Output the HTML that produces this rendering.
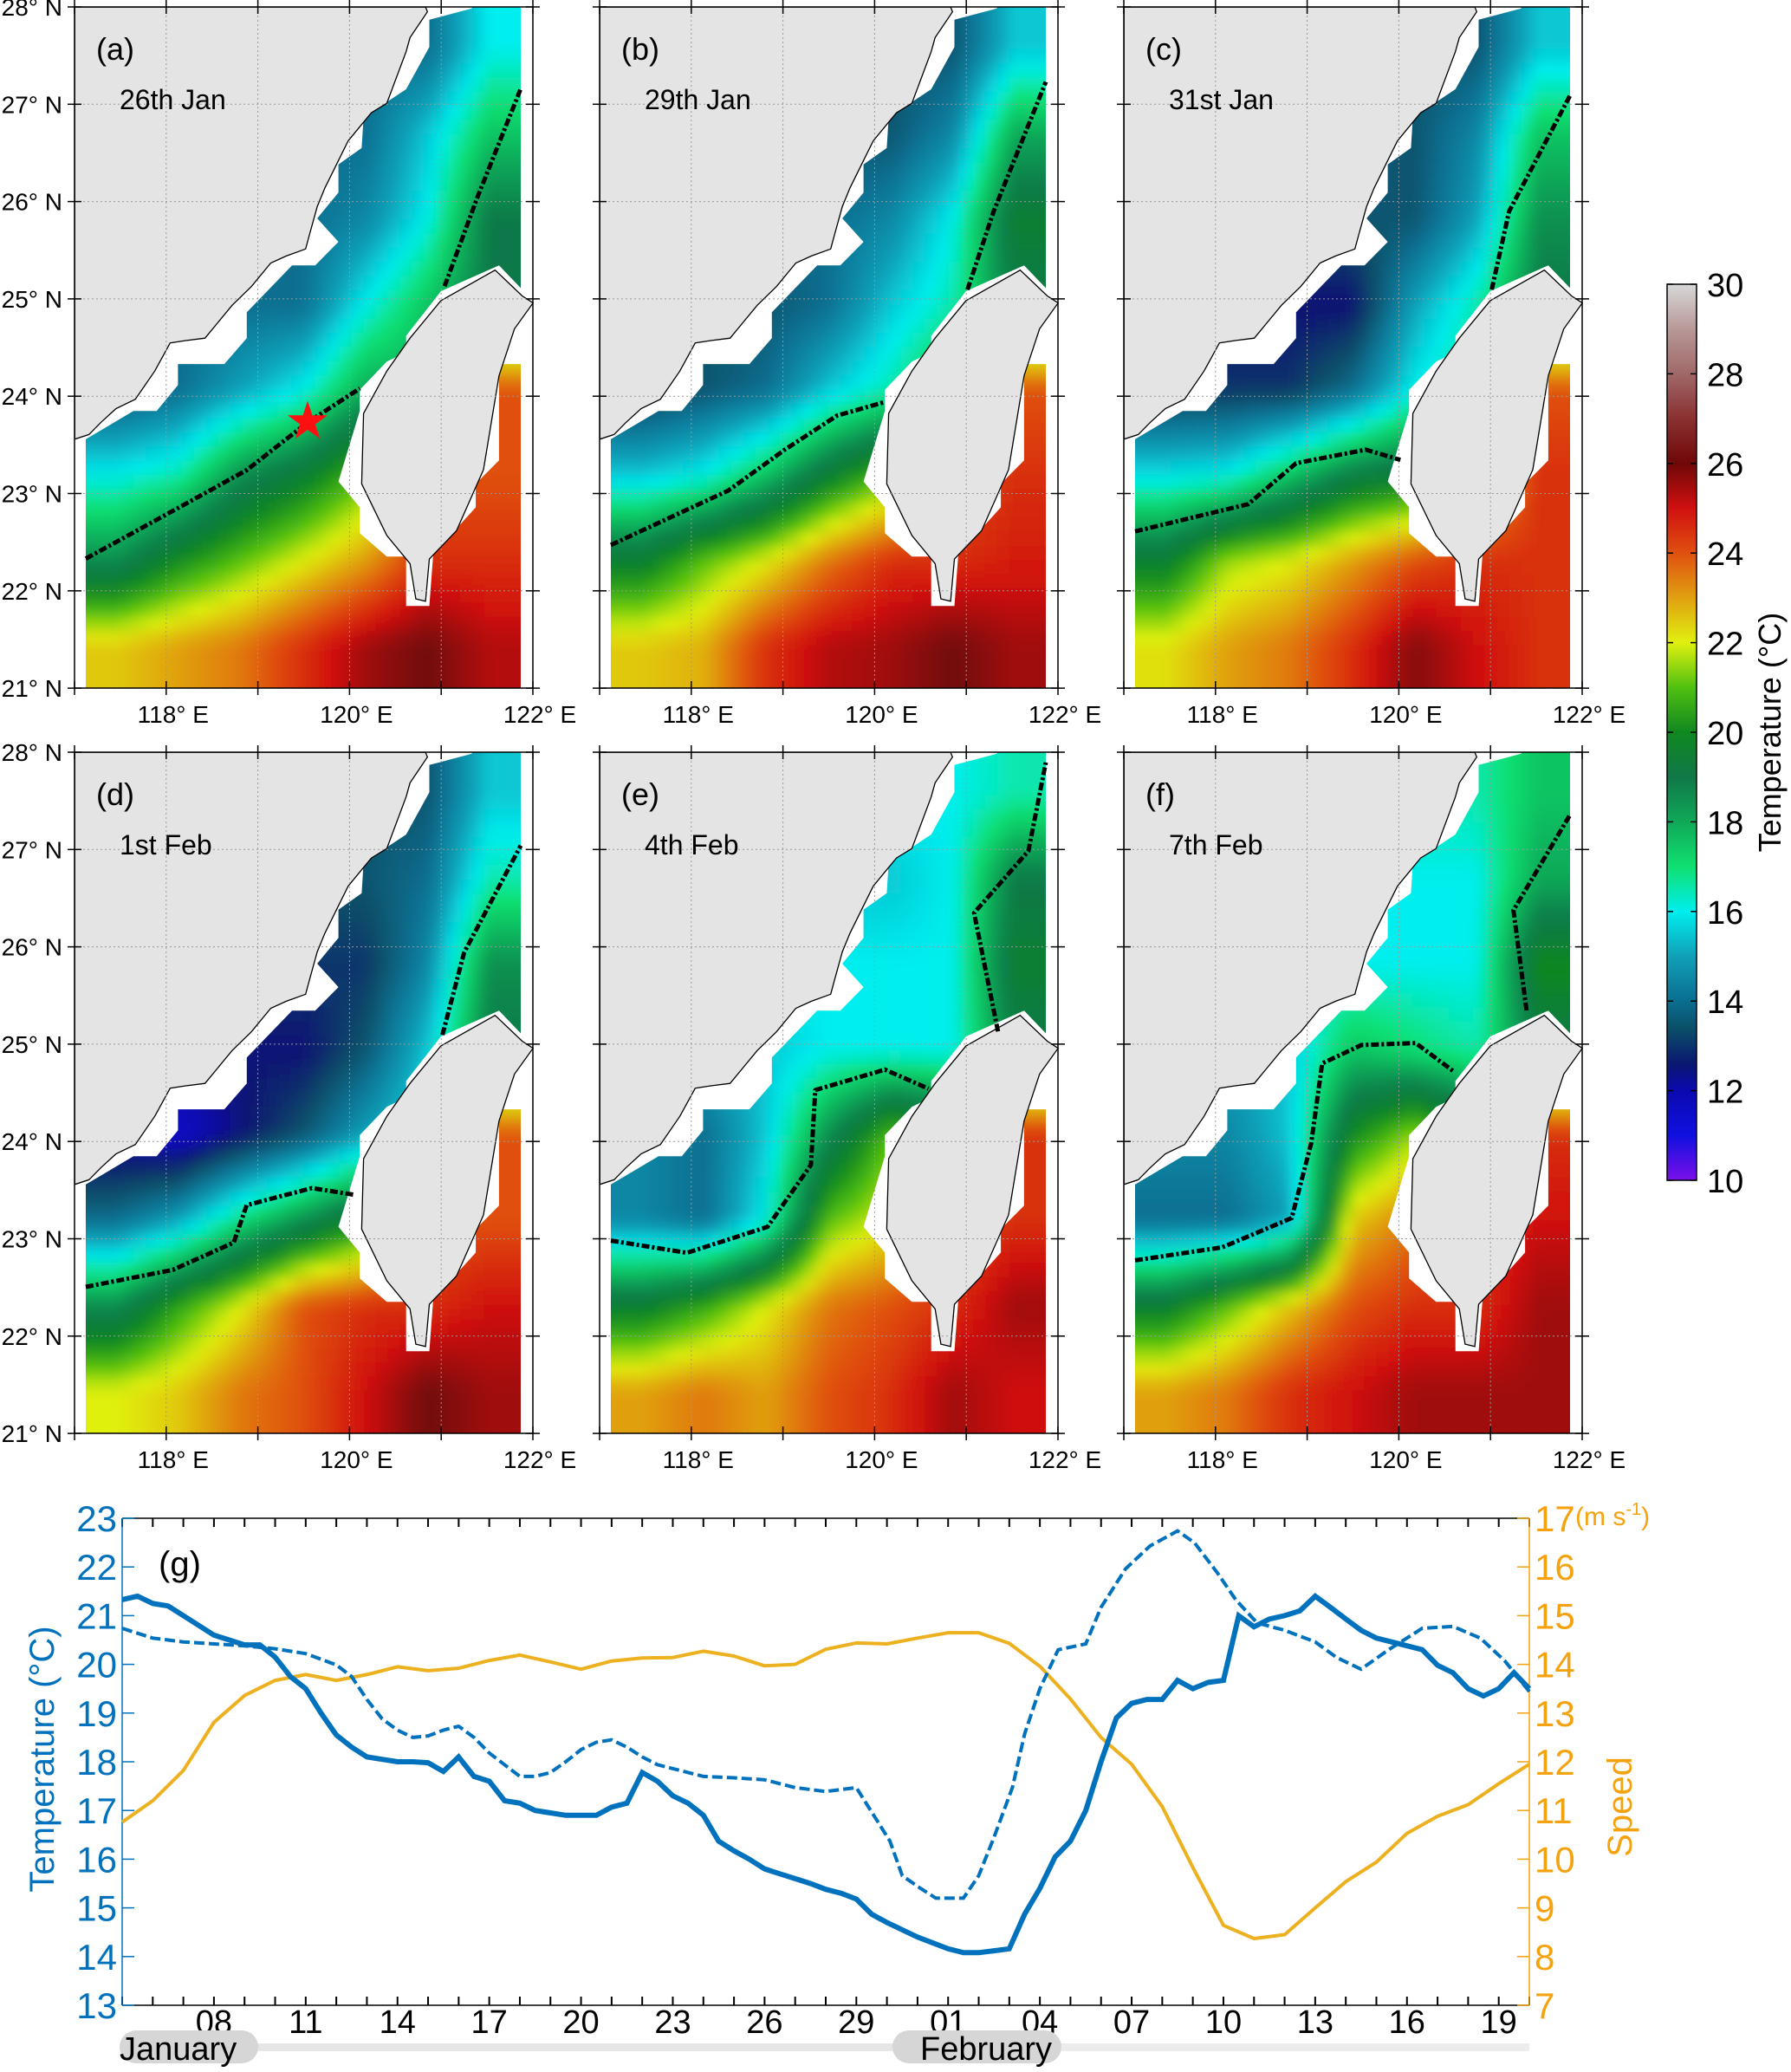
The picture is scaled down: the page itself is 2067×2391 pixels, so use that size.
<!DOCTYPE html>
<html><head><meta charset="utf-8"><style>
html,body{margin:0;padding:0;background:#fff;}
svg{display:block;font-family:"Liberation Sans",sans-serif;}
</style></head><body>
<svg id="fig" width="2067" height="2391" viewBox="0 0 2067 2391" xmlns="http://www.w3.org/2000/svg">
<defs>
<filter id="blur" x="-10%" y="-10%" width="120%" height="120%"><feGaussianBlur stdDeviation="7"/></filter>
<linearGradient id="cbgrad" x1="0" y1="1" x2="0" y2="0"></linearGradient>
</defs>
</svg>
<script>
// ---------- data ----------
const panelLetters = ["(a)","(b)","(c)","(d)","(e)","(f)"];
const panelDates = ["26th Jan","29th Jan","31st Jan","1st Feb","4th Feb","7th Feb"];
const latTicks = [28,27,26,25,24,23,22,21];
const lonTicks = [117,118,119,120,121,122];
const lonLabels = [118,120,122];
const gridA = [[14,14,14,14,14,14,16],[14,14,14,14,14,15.5,17.5],[14,14,14,14,14.5,16,19],[14,14,14,14,16,17.5,19],[13.5,14,15,16,18,18,24],[16,16.5,18.5,19.5,21,24,24],[18.5,20,21,22,23,24.5,24.5],[22.5,23,23.5,24.5,25.5,26,25.3]];
const gridB = [[13.5,13.5,13.5,13.5,13.5,13.5,15.5],[13.5,13.5,13.5,13.5,13.5,14.5,18],[14,14,14,14,14.5,16,19.5],[13.5,13.5,13.5,14,15.5,16.5,19],[13,13.5,14,15.5,16.5,18,24],[15.5,16,17.5,19.5,21,24,24.5],[19.5,21,22,23.5,24.5,24.5,24.8],[22.5,22.8,24.5,25.3,25.5,26,25.5]];
const gridC = [[13.5,13.5,13.5,13.5,13.5,13.5,15.5],[13.5,13.5,13.5,13.5,13.5,14.5,17.5],[13.5,13.5,13.5,13.5,13.5,15,18.5],[12.5,12.5,12.5,12.5,15,16.5,19],[13,13,13,14,16,17,24],[15.8,16,17.5,19,19.5,22,24.5],[19.5,21.5,22,23,24,24.5,24.5],[22.2,23,23.5,24.5,25.8,25,24.5]];
const gridD = [[13.5,13.5,13.5,13.5,13.5,13.5,15.5],[13.5,13.5,13.5,13.5,13.5,14,16.5],[13,13,13,13,13,14.5,18.5],[12.5,12.5,12.5,12.5,13.5,15.5,19],[12,11.5,12.5,13.5,15,16,24],[14,15,17,18.5,20,24,24],[18.5,20.5,22,24,24.5,24.5,25],[22,22.5,23.5,24,25,26,25.5]];
const gridE = [[16,16,16,16,16,16,16.5],[15.5,15.5,15.5,15.5,15.5,16,19],[16,16,16,16,16,16,19.5],[15,15,15.5,16,16,16,19],[14.5,14,15.5,18.5,21,20,24.5],[14.5,14,16,21,22,24,24.5],[19.5,20.5,22,23.5,24,24.5,25.5],[23,23.5,23,24,24.5,25.5,25]];
const gridF = [[16.5,16.5,16.5,16.5,16.5,16.5,17.5],[16,16,16,16,16,16,18],[16,16,16,16,16,16,20],[15,15,15.5,17.5,17,16.5,19],[14.5,14.5,15.5,20,21.5,20,24.5],[14,14,15,22.5,23.5,24.5,25],[19.5,21,22.5,24,24.5,24.5,25.5],[23,23.5,24.5,25,25.5,25.5,25.5]];
const contourWestA = [[0,0.81],[0.2,0.74],[0.37,0.68],[0.51,0.61],[0.63,0.56]];
const contourEastA = [[0.825,0.41],[0.9,0.28],[1,0.12]];
const contourWestB = [[0,0.79],[0.27,0.71],[0.40,0.65],[0.52,0.60],[0.63,0.58]];
const contourEastB = [[0.82,0.415],[0.88,0.30],[1,0.11]];
const contourWestC = [[0,0.77],[0.26,0.73],[0.37,0.67],[0.53,0.65],[0.61,0.665]];
const contourEastC = [[0.82,0.415],[0.86,0.30],[1,0.13]];
const contourWestD = [[0,0.785],[0.2,0.76],[0.34,0.72],[0.37,0.665],[0.52,0.64],[0.62,0.65]];
const contourEastD = [[0.82,0.415],[0.87,0.294],[1,0.137]];
const contourWestE = [[0,0.717],[0.175,0.735],[0.36,0.697],[0.46,0.606],[0.47,0.496],[0.63,0.466],[0.73,0.494]];
const contourEastE = [[0.89,0.41],[0.835,0.236],[0.96,0.145],[1,0.015]];
const contourWestF = [[0,0.746],[0.2,0.727],[0.36,0.684],[0.405,0.574],[0.43,0.457],[0.52,0.43],[0.645,0.427],[0.735,0.47]];
const contourEastF = [[0.9,0.379],[0.87,0.232],[1,0.092]];
const cbTicks = [10,12,14,16,18,20,22,24,26,28,30];
// time series (days since 5 Jan)
const speedDays = [0,1,2,3,4,5,6,7,8,9,10,11,12,13,14,15,16,17,18,19,20,21,22,23,24,25,26,27,28,29,30,31,32,33,34,35,36,37,38,39,40,41,42,43,44,45,46];
const speedValues = [10.76,11.2,11.82,12.81,13.36,13.67,13.79,13.67,13.79,13.95,13.87,13.92,14.08,14.19,14.05,13.9,14.07,14.13,14.14,14.27,14.17,13.97,14.0,14.31,14.44,14.42,14.54,14.65,14.65,14.43,13.96,13.29,12.5,11.95,11.08,9.83,8.64,8.37,8.45,9.0,9.54,9.94,10.53,10.88,11.12,11.55,11.95];
const obsDays = [0,0.5,1,1.5,2,2.5,3,3.5,4,4.5,5,5.5,6,6.5,7,7.5,8,8.5,9,9.5,10,10.5,11,11.5,12,12.5,13,13.5,14,14.5,15,15.5,16,16.5,17,17.5,18,18.5,19,19.5,20,20.5,21,21.5,22,22.5,23,23.5,24,24.5,25,25.5,26,26.5,27,27.5,28,28.5,29,29.5,30,30.5,31,31.5,32,32.5,33,33.5,34,34.5,35,35.5,36,36.5,37,37.5,38,38.5,39,39.5,40,40.5,41,41.5,42,42.5,43,43.5,44,44.5,45,45.5,46];
const obsTemp = [21.33,21.4,21.25,21.2,21.0,20.8,20.6,20.5,20.4,20.4,20.15,19.75,19.5,19.0,18.55,18.3,18.1,18.05,18.0,18.0,17.98,17.8,18.1,17.7,17.6,17.2,17.15,17.0,16.95,16.9,16.9,16.9,17.07,17.15,17.78,17.6,17.3,17.15,16.9,16.37,16.17,16.0,15.8,15.7,15.6,15.5,15.38,15.3,15.18,14.87,14.7,14.55,14.4,14.28,14.16,14.08,14.08,14.12,14.16,14.87,15.4,16.05,16.37,17.0,18.0,18.9,19.2,19.28,19.28,19.67,19.5,19.63,19.67,21.0,20.77,20.93,21.0,21.1,21.4,21.17,20.93,20.7,20.54,20.46,20.38,20.3,19.98,19.83,19.5,19.35,19.5,19.83,19.5];
const modelDays = [0,1,2,3,4,5,6,7,7.5,8,8.5,9,9.5,10,10.5,11,11.5,12,12.5,13,13.5,14,14.5,15,15.5,16,16.5,17,17.5,18,18.5,19,20,21,21.5,22,23,24,25.1,25.5,26.1,26.6,27.5,28,28.5,29.1,29.5,30,30.6,31.5,32,32.8,33.6,34.5,35.05,35.8,36.4,37.1,38,39,39.7,40.5,41.4,42.5,43.5,44.4,45.2,46];
const modelTemp = [20.74,20.54,20.46,20.42,20.38,20.32,20.22,19.99,19.75,19.28,18.88,18.65,18.5,18.53,18.65,18.73,18.5,18.18,17.94,17.7,17.7,17.78,18.0,18.25,18.4,18.45,18.3,18.1,17.94,17.86,17.78,17.7,17.67,17.63,17.55,17.47,17.39,17.47,16.37,15.66,15.4,15.2,15.2,15.66,16.45,17.47,18.57,19.5,20.3,20.42,21.17,21.96,22.43,22.74,22.5,21.88,21.33,20.85,20.7,20.46,20.14,19.9,20.3,20.74,20.78,20.54,20.07,19.44];
const xTickDays = [3,6,9,12,15,18,21,24,27,30,33,36,39,42,45];
const xTickLabels = ["08","11","14","17","20","23","26","29","01","04","07","10","13","16","19"];
const leftTicks = [13,14,15,16,17,18,19,20,21,22,23];
const rightTicks = [7,8,9,10,11,12,13,14,15,16,17];

// ---------- helpers ----------
const NS = "http://www.w3.org/2000/svg";
const svg = document.getElementById('fig');
function mk(tag, attrs, parent){const e=document.createElementNS(NS,tag);for(const k in attrs)e.setAttribute(k,attrs[k]);(parent||svg).appendChild(e);return e;}
const cmapStops = [[10,'#7a10e8'],[11,'#1010e0'],[12,'#0a0ab0'],[12.6,'#0a1870'],[13.4,'#0a5068'],[14,'#0a6e90'],[15,'#10a0b8'],[16,'#00eeee'],[17,'#10e070'],[18,'#10a858'],[19,'#107848'],[20,'#108820'],[21,'#50c010'],[22,'#e0f010'],[23,'#e0a010'],[24,'#e05010'],[25,'#d01010'],[26,'#700808'],[27,'#8a3030'],[28,'#a06868'],[29,'#b89898'],[30,'#d8d8d8']];
function hex(h){return [parseInt(h.substr(1,2),16),parseInt(h.substr(3,2),16),parseInt(h.substr(5,2),16)];}
function cmap(v){
  if(v<=cmapStops[0][0])return cmapStops[0][1];
  for(let i=1;i<cmapStops.length;i++){
    if(v<=cmapStops[i][0]){const a=cmapStops[i-1],b=cmapStops[i];const t=(v-a[0])/(b[0]-a[0]);const c1=hex(a[1]),c2=hex(b[1]);
      return 'rgb('+c1.map((c,j)=>Math.round(c+(c2[j]-c)*t)).join(',')+')';}
  }
  return cmapStops[cmapStops.length-1][1];
}
// bilinear sample of a grid at fractional cell-centre coords
function sample(grid,fx,fy){
  const rows=grid.length, cols=grid[0].length;
  let gx=fx*cols-0.5, gy=fy*rows-0.5;
  gx=Math.max(0,Math.min(cols-1,gx)); gy=Math.max(0,Math.min(rows-1,gy));
  const x0=Math.floor(gx), y0=Math.floor(gy), x1=Math.min(cols-1,x0+1), y1=Math.min(rows-1,y0+1);
  const tx=gx-x0, ty=gy-y0;
  const a=grid[y0][x0]*(1-tx)+grid[y0][x1]*tx, b=grid[y1][x0]*(1-tx)+grid[y1][x1]*tx;
  return a*(1-ty)+b*ty;
}
const mainMask=[[193,15],[1220,15],[1220,18],[1110,42],[1110,100],[1050,190],[940,250],[935,315],[875,350],[875,410],[820,465],[875,515],[815,565],[755,565],[638,665],[638,720],[580,775],[460,775],[460,820],[405,875],[345,875],[222,935],[193,935]];
const mainLand=[[193,15],[1100,15],[1105,25],[1060,80],[1050,110],[1000,220],[960,240],[930,270],[900,300],[870,350],[840,400],[820,440],[800,500],[790,530],[740,545],[700,560],[650,610],[600,650],[560,690],[530,720],[480,725],[440,730],[400,790],[350,850],[300,870],[260,900],[230,925],[193,935]];
const twMask=[[1050,715],[1140,620],[1290,565],[1348,615],[1348,775],[1290,775],[1290,980],[1230,1030],[1230,1080],[1120,1180],[1110,1290],[1050,1290],[1050,1185],[1000,1185],[930,1135],[930,1080],[875,1025],[930,875],[930,830],[1000,770],[1050,750]];
const twLand=[[1140,640],[1280,575],[1350,630],[1378,645],[1330,700],[1290,800],[1250,1000],[1180,1130],[1110,1190],[1100,1280],[1075,1275],[1060,1200],[1000,1140],[935,1030],[940,880],[1000,790],[1060,720]];
function conv(p){return [p[0]/2.24-86, p[1]/1.845-8];}
function ptsStr(arr,ox,oy){return arr.map(p=>{const q=conv(p);return (q[0]+ox).toFixed(1)+','+(q[1]+oy).toFixed(1);}).join(' ');}

const grids=[gridA,gridB,gridC,gridD,gridE,gridF];
const cWest=[contourWestA,contourWestB,contourWestC,contourWestD,contourWestE,contourWestF];
const cEast=[contourEastA,contourEastB,contourEastC,contourEastD,contourEastE,contourEastF];
const FW=529, FH=786, DX0=13, DW=502;
const panelX=[86,692,1297], panelY=[8,868];
const lonX = lon => (lon-117)*105.8;
const latY = lat => (28-lat)*112.3;
const NX=36, NY=48;

grids.forEach((grid,pi)=>{
  const ox=panelX[pi%3], oy=panelY[Math.floor(pi/3)];
  const g=mk('g',{transform:'translate('+ox+','+oy+')'});
  
  
  const cid='clip'+pi;
  const cp=mk('clipPath',{id:cid},g); mk('rect',{x:DX0,y:0,width:DW,height:FH},cp);
  const field=mk('g',{'clip-path':'url(#'+cid+')'},g);
  
  
  const cw=DW/NX, ch=FH/NY;
  const base=mk('g',{},field), bl=mk('g',{filter:'url(#blur)'},field);
  for(let r=0;r<NY;r++)for(let c=0;c<NX;c++){
    const v=sample(grid,(c+0.5)/NX,(r+0.5)/NY);
    const col=cmap(v);
    const ex=(c===0?-20:0), ew=(c===0||c===NX-1?20:0), ey=(r===0?-20:0), eh=(r===0||r===NY-1?20:0);
    const a={x:DX0+c*cw+ex-0.5,y:r*ch+ey-0.5,width:cw+1+ew,height:ch+1+eh,fill:col};
    const c1=mk('rect',a,base);  
    const c2=mk('rect',a,bl);  
  }
  const m1=mk('polygon',{points:ptsStr(mainMask,0,0),fill:'#fff'},g);  
  const m2=mk('polygon',{points:ptsStr(twMask,0,0),fill:'#fff'},g);  
  const l1=mk('polygon',{points:ptsStr(mainLand,0,0),fill:'#e4e4e4',stroke:'#000','stroke-width':1.3},g);  
  const l2=mk('polygon',{points:ptsStr(twLand,0,0),fill:'#e4e4e4',stroke:'#000','stroke-width':1.3},g);  
  lonTicks.forEach(l=>{const x=lonX(l);const e=mk('line',{x1:x,y1:0,x2:x,y2:FH,stroke:'#999','stroke-width':1,'stroke-dasharray':'2 3'},g);
    mk('line',{x1:x,y1:-8,x2:x,y2:8,stroke:'#000','stroke-width':1.5},g);mk('line',{x1:x,y1:FH-8,x2:x,y2:FH+8,stroke:'#000','stroke-width':1.5},g);});
  latTicks.forEach(l=>{const y=latY(l);const e=mk('line',{x1:0,y1:y,x2:FW,y2:y,stroke:'#999','stroke-width':1,'stroke-dasharray':'2 3'},g);
    mk('line',{x1:-8,y1:y,x2:8,y2:y,stroke:'#000','stroke-width':1.5},g);mk('line',{x1:FW-8,y1:y,x2:FW+8,y2:y,stroke:'#000','stroke-width':1.5},g);});
  [cWest[pi],cEast[pi]].forEach(cl=>{
    const p=mk('polyline',{points:cl.map(q=>(DX0+q[0]*DW).toFixed(1)+','+(q[1]*FH).toFixed(1)).join(' '),fill:'none',stroke:'#000','stroke-width':5,'stroke-dasharray':'9 3 3 3','stroke-linejoin':'round'},g);
     
  });
  if(pi===0){const s=mk('text',{x:269,y:498,'font-size':60,fill:'#ff1010','text-anchor':'middle'},g);s.textContent='★';}
  const fr=mk('rect',{x:0,y:0,width:FW,height:FH,fill:'none',stroke:'#000','stroke-width':1.5},g);  
  const t1=mk('text',{x:25,y:61,'font-size':36,fill:'#000'},g); t1.textContent=panelLetters[pi];  
  const t2=mk('text',{x:52,y:118,'font-size':32,fill:'#000'},g); t2.textContent=panelDates[pi];  
  lonLabels.forEach(l=>{const t=mk('text',{x:lonX(l)+8,y:FH+40,'font-size':28,'text-anchor':'middle',fill:'#000'},g);t.textContent=l+'° E';});
  if(pi%3===0){latTicks.forEach(l=>{const t=mk('text',{x:-14,y:latY(l)+10,'font-size':28,'text-anchor':'end',fill:'#000'},g);t.textContent=l+'° N';});}
});

// ---------- colorbar ----------
const grad=document.getElementById('cbgrad');
cmapStops.forEach(s=>{mk('stop',{offset:((s[0]-10)/20*100)+'%','stop-color':s[1]},grad);});
const CB={x:1924,y:328,w:34,h:1034};
const cbY=v=>CB.y+CB.h-(v-10)/20*CB.h;
const cb=mk('rect',{x:CB.x,y:CB.y,width:CB.w,height:CB.h,fill:'url(#cbgrad)',stroke:'#000','stroke-width':1.5});
 
cbTicks.forEach(v=>{const y=cbY(v);
  mk('line',{x1:CB.x,y1:y,x2:CB.x+7,y2:y,stroke:'#000','stroke-width':1.5});mk('line',{x1:CB.x+CB.w-7,y1:y,x2:CB.x+CB.w,y2:y,stroke:'#000','stroke-width':1.5});
  const t=mk('text',{x:1970,y:y+14,'font-size':38,fill:'#000'});t.textContent=v;});
const cbt=mk('text',{x:0,y:0,'font-size':36,fill:'#000','text-anchor':'middle',transform:'translate(2055,845) rotate(-90)'});
cbt.textContent='Temperature (°C)';  

// ---------- time series (g) ----------
const P={l:141,r:1765,t:1752,b:2314};
const X=d=>P.l+d*(P.r-P.l)/46;
const YL=v=>P.b-(v-13)*(P.b-P.t)/10;
const YR=v=>P.b-(v-7)*(P.b-P.t)/10;
const BLUE='#0072bd', ORANGE='#f5a20f';
const gg=mk('g',{});  
for(let d=0;d<=46;d++){const x=X(d);mk('line',{x1:x,y1:P.t,x2:x,y2:P.t+10,stroke:'#000','stroke-width':2},gg);mk('line',{x1:x,y1:P.b,x2:x,y2:P.b-10,stroke:'#000','stroke-width':2},gg);}
mk('line',{x1:P.l,y1:P.t,x2:P.r,y2:P.t,stroke:'#000','stroke-width':1.5},gg);
mk('line',{x1:P.l,y1:P.b,x2:P.r,y2:P.b,stroke:'#000','stroke-width':1.5},gg);
mk('line',{x1:P.l,y1:P.t,x2:P.l,y2:P.b,stroke:BLUE,'stroke-width':1.5},gg);
mk('line',{x1:P.r,y1:P.t,x2:P.r,y2:P.b,stroke:ORANGE,'stroke-width':1.5},gg);
leftTicks.forEach(v=>{const y=YL(v);mk('line',{x1:P.l,y1:y,x2:P.l+14,y2:y,stroke:BLUE,'stroke-width':1.5},gg);
  const t=mk('text',{x:P.l-6,y:y+15,'font-size':42,fill:BLUE,'text-anchor':'end'},gg);t.textContent=v;});
rightTicks.forEach(v=>{const y=YR(v);mk('line',{x1:P.r-14,y1:y,x2:P.r,y2:y,stroke:ORANGE,'stroke-width':1.5},gg);
  const t=mk('text',{x:P.r+6,y:y+15,'font-size':42,fill:ORANGE},gg);t.textContent=v;});
xTickDays.forEach((d,i)=>{const t=mk('text',{x:X(d),y:2346,'font-size':38,fill:'#000','text-anchor':'middle'},gg);t.textContent=xTickLabels[i];});
const unit=mk('text',{x:1818,y:1760,'font-size':30,fill:ORANGE},gg);unit.innerHTML='(m s<tspan font-size="20" dy="-12">-1</tspan><tspan dy="12">)</tspan>';
const yt=mk('text',{x:0,y:0,'font-size':40,fill:BLUE,'text-anchor':'middle',transform:'translate(62,2030) rotate(-90)'},gg);yt.textContent='Temperature (°C)';
const yr=mk('text',{x:0,y:0,'font-size':40,fill:ORANGE,'text-anchor':'middle',transform:'translate(1883,2085) rotate(-90)'},gg);yr.textContent='Speed';
const gl=mk('text',{x:183,y:1818,'font-size':40,fill:'#000'},gg);gl.textContent='(g)';
const sp=mk('polyline',{points:speedDays.map((d,i)=>X(d).toFixed(1)+','+YR(speedValues[i]).toFixed(1)).join(' '),fill:'none',stroke:'#edb120','stroke-width':4,'stroke-linejoin':'round'},gg);

const md=mk('polyline',{points:modelDays.map((d,i)=>X(d).toFixed(1)+','+YL(modelTemp[i]).toFixed(1)).join(' '),fill:'none',stroke:BLUE,'stroke-width':4,'stroke-dasharray':'12 5'},gg);

const ob=mk('polyline',{points:obsDays.map((d,i)=>X(d).toFixed(1)+','+YL(obsTemp[i]).toFixed(1)).join(' '),fill:'none',stroke:BLUE,'stroke-width':6,'stroke-linejoin':'miter'},gg);

mk('rect',{x:290,y:2358,width:750,height:9,fill:'#e6e6e6'},gg);
mk('rect',{x:1220,y:2358,width:545,height:9,fill:'#ececec'},gg);
const jp=mk('rect',{x:138,y:2343,width:160,height:38,rx:19,fill:'#d6d6d6'},gg);
const fp=mk('rect',{x:1030,y:2343,width:195,height:38,rx:19,fill:'#d6d6d6'},gg);
const jt=mk('text',{x:138,y:2377,'font-size':38,fill:'#000'},gg);jt.textContent='January';
const ft=mk('text',{x:1062,y:2377,'font-size':38,fill:'#000'},gg);ft.textContent='February';
</script>
</body></html>
